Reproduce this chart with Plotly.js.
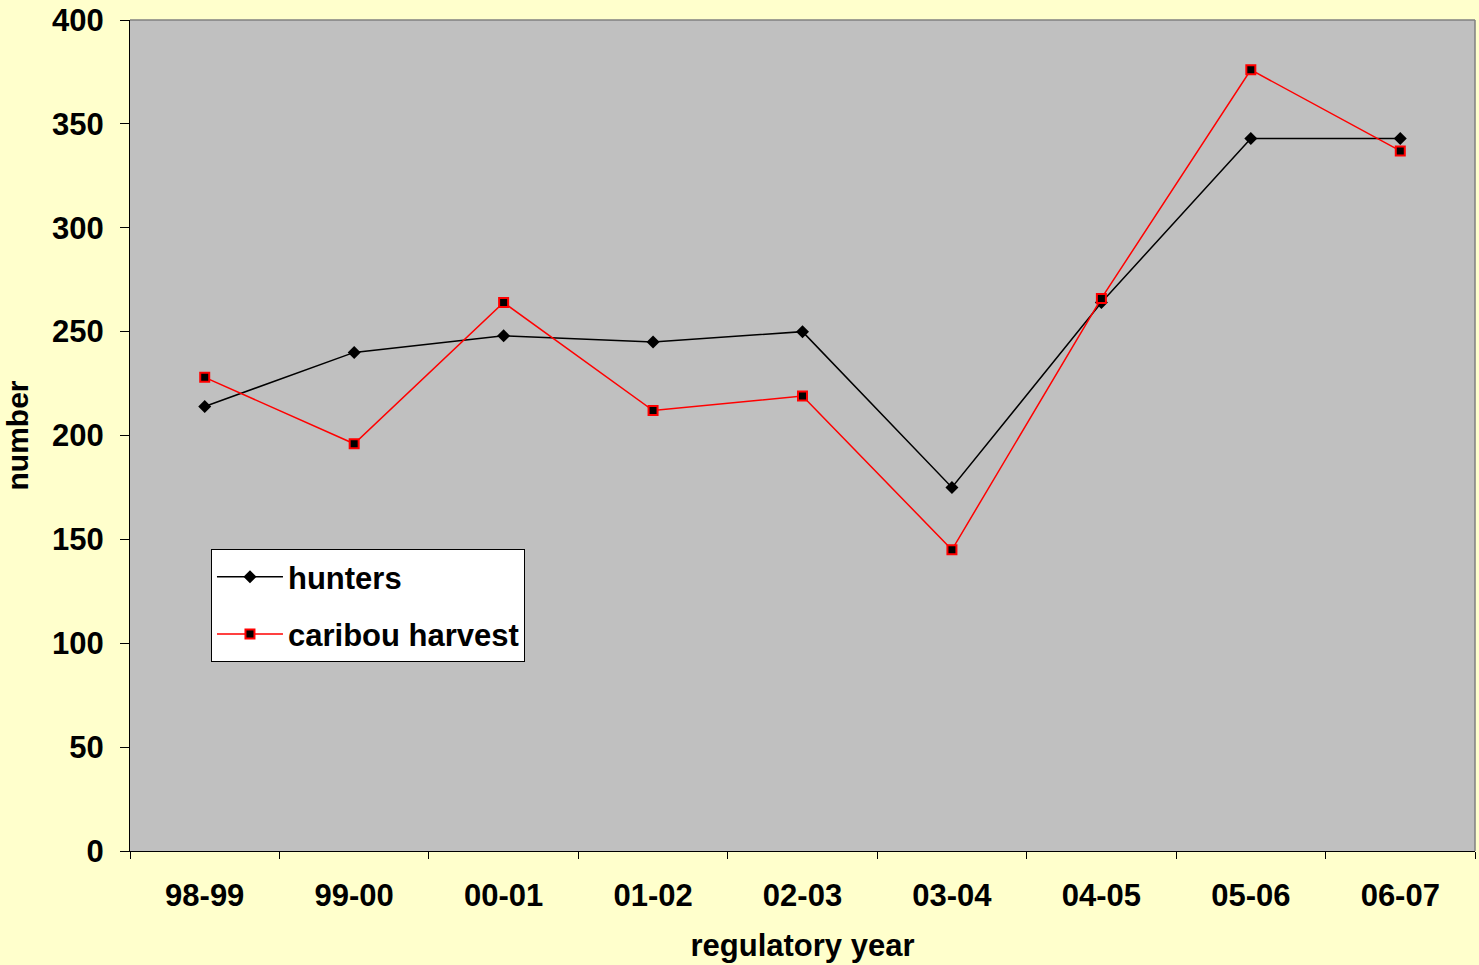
<!DOCTYPE html>
<html><head><meta charset="utf-8">
<script src="https://cdn.plot.ly/plotly-3.0.1.min.js"></script>
<style>html,body{margin:0;padding:0;background:#FFFFCC;}#chart{width:1479px;height:965px;}</style>
</head><body><div id="chart"></div>
<script>
const years = ["98-99","99-00","00-01","01-02","02-03","03-04","04-05","05-06","06-07"];
const hunters = [214,240,248,245,250,175,264,343,343];
const caribouHarvest = [228,196,264,212,219,145,266,376,337];
const yTicks = [0,50,100,150,200,250,300,350,400];

const fam = "Liberation Sans, Arial, sans-serif";
const traces = [
  {x: years, y: hunters, name: "hunters", legendgroup:"a", type:"scatter", mode:"lines+markers",
   line:{color:"#000", width:1.5}, marker:{symbol:"diamond", size:10, color:"#000"}},
  {x: years, y: caribouHarvest, name: "caribou harvest", legendgroup:"b", type:"scatter", mode:"lines+markers",
   line:{color:"#FF0000", width:1.5}, marker:{symbol:"square", size:9, color:"#000", line:{color:"#FF0000", width:2}}}
];
const layout = {
  width:1479, height:965,
  paper_bgcolor:"#FFFFCC", plot_bgcolor:"#C0C0C0",
  margin:{l:130, r:4, t:20, b:114},
  font: {family:fam, color:"#000", size:30},
  showlegend:true,
  legend:{x:0.0602, y:0.3634, xanchor:"left", yanchor:"top", bgcolor:"#FFFFFF",
          bordercolor:"#000", borderwidth:1, font:{family:fam, size:31, color:"#000", weight:"bold"},
          tracegroupgap:14, itemwidth:66},
  xaxis:{type:"category", tickson:"boundaries", ticks:"outside", ticklen:7, tickcolor:"#000",
         showline:true, linecolor:"#000", linewidth:1, showgrid:false, zeroline:false,
         ticklabelstandoff:17,
         tickfont:{family:fam, size:31, weight:"bold"},
         title:{text:"regulatory year", font:{family:fam, size:31, weight:"bold"}, standoff:22},
         range:[-0.5, 8.5]},
  yaxis:{range:[0,400], tickvals:yTicks, ticks:"outside", ticklen:9, tickcolor:"#000",
         showline:true, linecolor:"#000", linewidth:1, showgrid:false, zeroline:false,
         ticklabelstandoff:10,
         tickfont:{family:fam, size:31, weight:"bold"},
         title:{text:"number", font:{family:fam, size:30, weight:"bold"}, standoff:14}},
  shapes:[{type:"line", xref:"paper", yref:"paper", x0:0, x1:1, y0:1, y1:1, line:{color:"#808080", width:1.5}},
          {type:"line", xref:"paper", yref:"paper", x0:1, x1:1, y0:0, y1:1, line:{color:"#808080", width:1.5}}]
};
Plotly.newPlot("chart", traces, layout, {displayModeBar:false});
</script></body></html>
